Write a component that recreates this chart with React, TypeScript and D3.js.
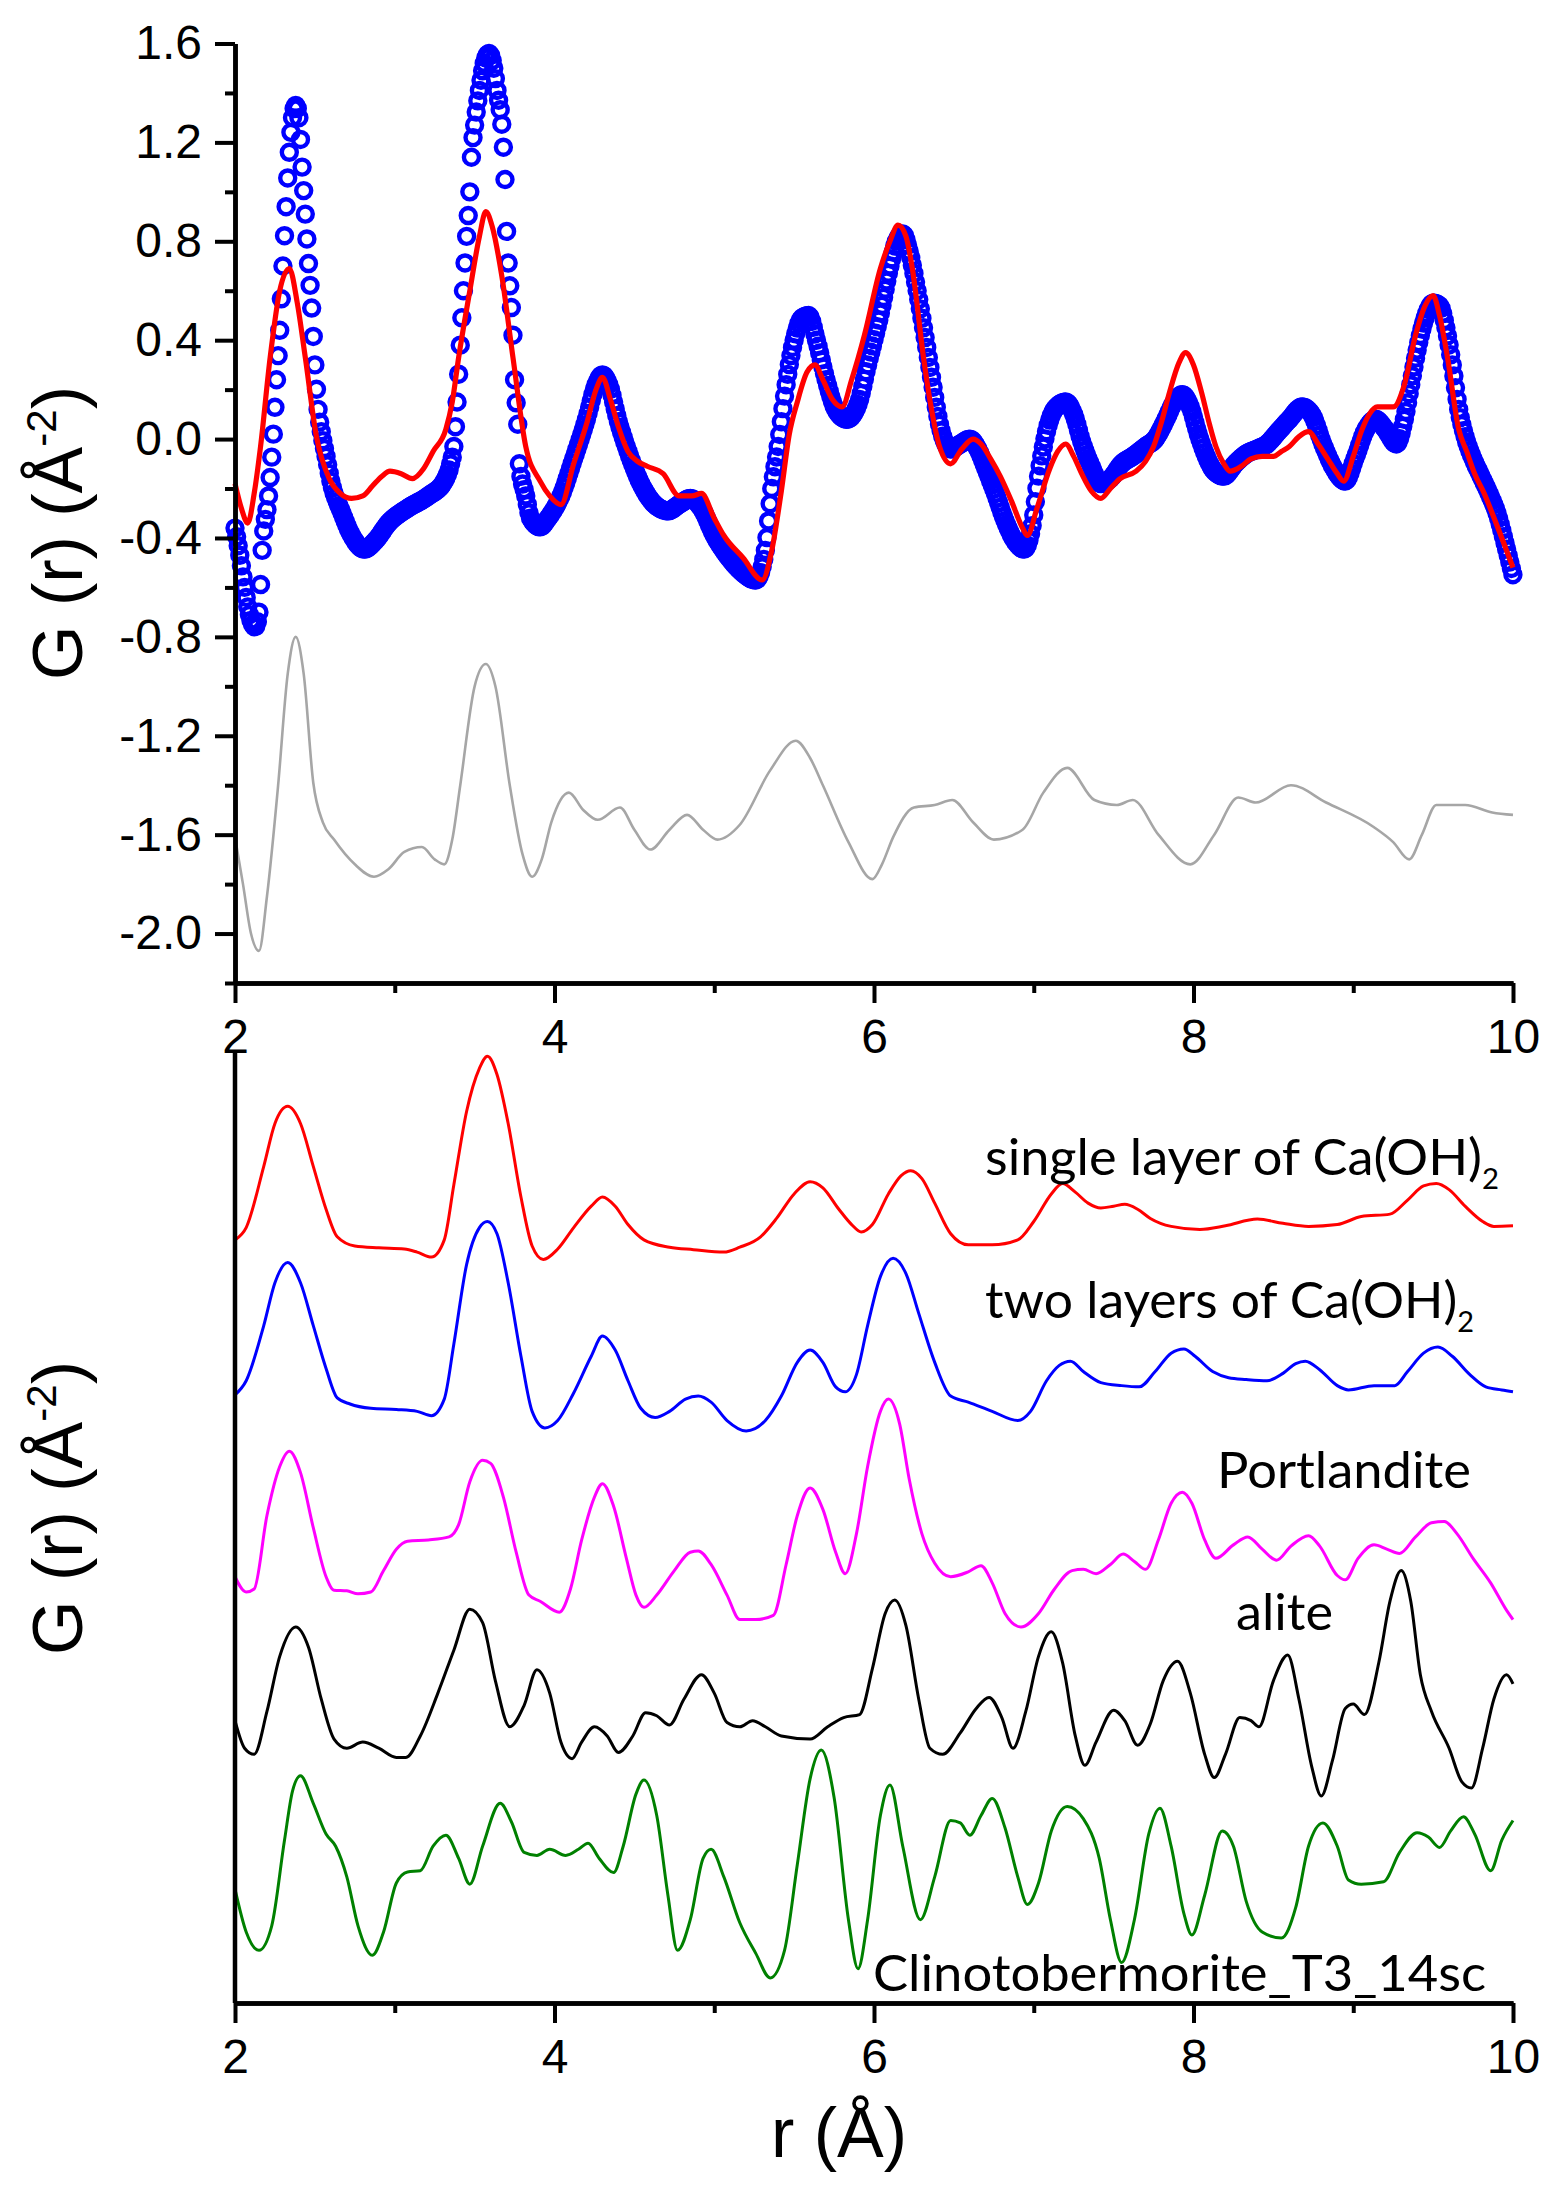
import React, { useEffect, useRef } from 'react';
import * as d3 from 'd3';

type P = [number, number];

// ---------- Top panel: experimental G(r) (blue circles), fit (red), difference (grey) ----------
const expData: P[] = [
  [2.00,-0.36],[2.03,-0.47],[2.06,-0.60],[2.09,-0.71],[2.125,-0.76],[2.15,-0.70],[2.17,-0.45],[2.21,-0.23],
  [2.24,0.02],[2.26,0.24],[2.28,0.44],[2.30,0.70],[2.32,0.94],[2.34,1.16],[2.36,1.30],[2.38,1.35],[2.40,1.30],
  [2.42,1.10],[2.44,0.91],[2.46,0.71],[2.48,0.53],[2.50,0.30],[2.52,0.12],[2.54,0.03],[2.57,-0.07],[2.60,-0.17],
  [2.67,-0.30],[2.73,-0.39],[2.81,-0.445],[2.88,-0.41],[2.96,-0.34],[3.08,-0.28],[3.21,-0.23],[3.31,-0.17],
  [3.35,-0.10],[3.37,-0.03],[3.39,0.15],[3.41,0.38],[3.43,0.60],[3.45,0.82],[3.47,1.00],[3.48,1.14],[3.50,1.27],
  [3.53,1.41],[3.56,1.52],[3.59,1.56],[3.62,1.50],[3.64,1.41],[3.675,1.23],[3.69,1.05],[3.70,0.84],[3.72,0.62],
  [3.74,0.42],[3.75,0.24],[3.77,0.06],[3.78,-0.10],[3.82,-0.23],[3.85,-0.32],[3.91,-0.355],[3.96,-0.32],
  [4.04,-0.23],[4.12,-0.08],[4.20,0.08],[4.26,0.22],[4.30,0.26],[4.34,0.22],[4.40,0.07],[4.46,-0.05],
  [4.54,-0.18],[4.62,-0.26],[4.71,-0.29],[4.79,-0.26],[4.85,-0.24],[4.92,-0.28],[5.00,-0.39],[5.08,-0.47],
  [5.16,-0.53],[5.26,-0.57],[5.32,-0.45],[5.36,-0.20],[5.40,-0.03],[5.45,0.22],[5.50,0.40],[5.55,0.49],
  [5.59,0.50],[5.64,0.40],[5.70,0.24],[5.76,0.12],[5.83,0.08],[5.90,0.14],[5.96,0.30],[6.04,0.51],[6.10,0.70],
  [6.14,0.80],[6.18,0.83],[6.22,0.76],[6.27,0.60],[6.31,0.45],[6.36,0.25],[6.41,0.06],[6.48,-0.04],[6.54,-0.02],
  [6.60,0.00],[6.65,-0.04],[6.70,-0.12],[6.76,-0.22],[6.82,-0.33],[6.89,-0.42],[6.94,-0.445],[6.99,-0.35],
  [7.03,-0.15],[7.08,0.03],[7.13,0.12],[7.20,0.15],[7.25,0.10],[7.30,-0.01],[7.36,-0.11],[7.42,-0.18],
  [7.48,-0.16],[7.55,-0.10],[7.62,-0.07],[7.70,-0.03],[7.76,0.00],[7.82,0.07],[7.88,0.15],[7.93,0.18],
  [7.98,0.13],[8.03,0.02],[8.08,-0.07],[8.13,-0.13],[8.19,-0.15],[8.26,-0.10],[8.33,-0.06],[8.40,-0.04],
  [8.46,-0.02],[8.53,0.03],[8.60,0.08],[8.68,0.13],[8.74,0.10],[8.81,-0.02],[8.88,-0.12],[8.95,-0.17],
  [9.01,-0.08],[9.08,0.04],[9.14,0.08],[9.20,0.04],[9.27,-0.02],[9.32,0.08],[9.36,0.22],[9.40,0.36],
  [9.45,0.49],[9.50,0.55],[9.54,0.54],[9.58,0.45],[9.62,0.30],[9.66,0.12],[9.70,0.01],[9.75,-0.08],
  [9.80,-0.15],[9.85,-0.22],[9.90,-0.30],[9.95,-0.42],[10.00,-0.55],
];

const fitData: P[] = [
  [2.00,-0.18],[2.04,-0.28],[2.08,-0.34],[2.12,-0.22],[2.16,-0.03],[2.22,0.33],[2.28,0.60],[2.34,0.69],
  [2.39,0.55],[2.44,0.33],[2.51,0.01],[2.59,-0.16],[2.66,-0.22],[2.73,-0.24],[2.80,-0.23],[2.86,-0.19],
  [2.92,-0.15],[2.97,-0.13],[3.04,-0.14],[3.11,-0.16],[3.18,-0.12],[3.24,-0.05],[3.32,0.04],[3.36,0.15],
  [3.40,0.33],[3.47,0.60],[3.53,0.82],[3.57,0.92],[3.61,0.86],[3.67,0.66],[3.74,0.33],[3.82,-0.03],
  [3.91,-0.17],[3.97,-0.23],[4.04,-0.265],[4.12,-0.10],[4.20,0.06],[4.26,0.20],[4.30,0.25],[4.35,0.16],
  [4.40,0.05],[4.46,-0.05],[4.52,-0.09],[4.58,-0.11],[4.68,-0.14],[4.78,-0.23],[4.86,-0.23],[4.92,-0.22],
  [5.00,-0.32],[5.06,-0.39],[5.18,-0.48],[5.30,-0.57],[5.36,-0.45],[5.42,-0.21],[5.47,0.02],[5.52,0.15],
  [5.58,0.27],[5.63,0.30],[5.68,0.24],[5.74,0.16],[5.80,0.13],[5.86,0.24],[5.94,0.42],[6.04,0.69],
  [6.10,0.80],[6.15,0.865],[6.20,0.82],[6.24,0.69],[6.31,0.33],[6.36,0.12],[6.41,-0.03],[6.48,-0.10],
  [6.55,-0.04],[6.62,0.00],[6.67,-0.02],[6.73,-0.08],[6.79,-0.15],[6.86,-0.25],[6.93,-0.36],[6.96,-0.39],
  [7.02,-0.28],[7.10,-0.12],[7.15,-0.05],[7.20,-0.02],[7.25,-0.07],[7.30,-0.14],[7.36,-0.21],[7.42,-0.24],
  [7.48,-0.20],[7.54,-0.16],[7.64,-0.13],[7.70,-0.09],[7.75,-0.03],[7.80,0.07],[7.85,0.19],[7.91,0.31],
  [7.95,0.35],[8.00,0.30],[8.05,0.19],[8.10,0.06],[8.14,-0.03],[8.19,-0.10],[8.23,-0.13],[8.30,-0.11],
  [8.36,-0.08],[8.43,-0.07],[8.50,-0.07],[8.55,-0.05],[8.60,-0.03],[8.66,0.01],[8.72,0.03],[8.78,-0.02],
  [8.84,-0.08],[8.90,-0.14],[8.94,-0.17],[9.00,-0.07],[9.05,0.03],[9.10,0.10],[9.15,0.13],[9.25,0.13],
  [9.32,0.22],[9.39,0.42],[9.45,0.54],[9.50,0.58],[9.54,0.50],[9.59,0.33],[9.66,0.04],[9.71,-0.05],
  [9.76,-0.14],[9.82,-0.22],[9.87,-0.30],[9.93,-0.40],[10.00,-0.52],
];

const diffData: P[] = [
  [2.00,-1.61],[2.05,-1.80],[2.10,-2.00],[2.15,-2.07],[2.20,-1.85],[2.27,-1.40],[2.33,-0.95],[2.38,-0.80],
  [2.43,-0.95],[2.49,-1.39],[2.55,-1.55],[2.62,-1.62],[2.75,-1.72],[2.87,-1.77],[2.96,-1.74],[3.06,-1.67],
  [3.17,-1.65],[3.25,-1.70],[3.31,-1.72],[3.36,-1.62],[3.41,-1.40],[3.50,-1.00],[3.57,-0.91],[3.63,-1.00],
  [3.72,-1.40],[3.80,-1.68],[3.86,-1.77],[3.92,-1.70],[3.98,-1.55],[4.09,-1.43],[4.18,-1.50],[4.27,-1.54],
  [4.41,-1.49],[4.50,-1.58],[4.60,-1.66],[4.72,-1.58],[4.83,-1.52],[4.93,-1.58],[5.02,-1.62],[5.16,-1.56],
  [5.35,-1.34],[5.51,-1.22],[5.60,-1.29],[5.68,-1.40],[5.84,-1.63],[5.99,-1.78],[6.05,-1.72],[6.12,-1.61],
  [6.25,-1.49],[6.38,-1.48],[6.49,-1.46],[6.62,-1.55],[6.75,-1.62],[6.93,-1.58],[7.06,-1.43],[7.21,-1.33],
  [7.38,-1.46],[7.52,-1.48],[7.62,-1.46],[7.78,-1.60],[7.98,-1.72],[8.13,-1.60],[8.28,-1.45],[8.39,-1.47],
  [8.61,-1.40],[8.83,-1.47],[9.13,-1.57],[9.25,-1.63],[9.35,-1.70],[9.43,-1.60],[9.52,-1.48],[9.70,-1.48],
  [9.87,-1.51],[10.00,-1.52],
];

// ---------- Bottom panel: model curves (arbitrary offset units) ----------
const singleLayer: P[] = [
  [2.00,12.46],[2.07,12.66],[2.18,13.66],[2.25,14.36],[2.33,14.64],[2.41,14.36],[2.49,13.66],[2.57,12.96],
  [2.64,12.51],[2.75,12.36],[2.90,12.33],[3.06,12.31],[3.14,12.26],[3.23,12.18],[3.31,12.46],[3.37,13.36],
  [3.45,14.56],[3.53,15.26],[3.58,15.46],[3.64,15.16],[3.71,14.36],[3.79,13.16],[3.86,12.36],[3.93,12.14],
  [4.02,12.31],[4.12,12.66],[4.23,13.01],[4.30,13.16],[4.38,13.01],[4.46,12.71],[4.56,12.46],[4.72,12.34],
  [4.87,12.30],[5.06,12.26],[5.16,12.34],[5.29,12.51],[5.39,12.81],[5.50,13.21],[5.60,13.41],[5.68,13.31],
  [5.78,12.96],[5.86,12.71],[5.92,12.59],[5.99,12.71],[6.09,13.21],[6.17,13.51],[6.23,13.59],[6.30,13.46],
  [6.38,13.06],[6.48,12.56],[6.59,12.38],[6.74,12.38],[6.90,12.46],[7.00,12.76],[7.11,13.21],[7.18,13.38],
  [7.26,13.24],[7.34,13.06],[7.42,12.98],[7.50,13.01],[7.57,13.04],[7.65,12.96],[7.73,12.81],[7.86,12.68],
  [8.04,12.63],[8.20,12.69],[8.40,12.80],[8.56,12.73],[8.72,12.68],[8.90,12.71],[9.05,12.84],[9.23,12.88],
  [9.34,13.11],[9.44,13.34],[9.52,13.38],[9.60,13.28],[9.70,13.01],[9.81,12.76],[9.88,12.68],[10.00,12.69],
];

const twoLayers: P[] = [
  [2.00,9.93],[2.07,10.16],[2.18,11.06],[2.25,11.76],[2.33,12.09],[2.41,11.76],[2.49,11.06],[2.57,10.36],
  [2.64,9.88],[2.72,9.78],[2.85,9.71],[3.01,9.69],[3.14,9.66],[3.23,9.59],[3.31,9.86],[3.37,10.76],
  [3.45,12.06],[3.53,12.66],[3.58,12.76],[3.64,12.56],[3.71,11.76],[3.79,10.56],[3.86,9.66],[3.94,9.39],
  [4.02,9.51],[4.12,9.96],[4.23,10.56],[4.30,10.89],[4.38,10.66],[4.46,10.16],[4.54,9.71],[4.63,9.56],
  [4.72,9.66],[4.82,9.86],[4.90,9.91],[4.98,9.81],[5.08,9.51],[5.20,9.34],[5.32,9.51],[5.42,9.91],
  [5.52,10.46],[5.60,10.66],[5.68,10.46],[5.76,10.06],[5.82,9.98],[5.89,10.26],[5.96,11.06],[6.04,11.86],
  [6.12,12.16],[6.20,11.91],[6.28,11.26],[6.38,10.46],[6.48,9.91],[6.59,9.81],[6.74,9.66],[6.90,9.51],
  [6.98,9.66],[7.08,10.16],[7.16,10.41],[7.23,10.48],[7.31,10.31],[7.42,10.13],[7.55,10.08],[7.66,10.06],
  [7.76,10.31],[7.86,10.61],[7.94,10.68],[8.01,10.56],[8.12,10.31],[8.22,10.21],[8.33,10.18],[8.46,10.16],
  [8.56,10.28],[8.64,10.44],[8.70,10.48],[8.79,10.34],[8.90,10.08],[8.97,10.01],[9.13,10.08],[9.26,10.08],
  [9.34,10.31],[9.44,10.61],[9.53,10.71],[9.62,10.56],[9.73,10.26],[9.83,10.06],[9.93,10.01],[10.00,9.98],
];

const portlandite: P[] = [
  [2.00,6.96],[2.07,6.71],[2.12,6.76],[2.20,7.96],[2.28,8.76],[2.34,9.01],[2.41,8.66],[2.49,7.76],
  [2.57,6.96],[2.62,6.74],[2.70,6.73],[2.77,6.68],[2.85,6.71],[2.93,7.06],[3.01,7.41],[3.08,7.54],
  [3.21,7.56],[3.34,7.61],[3.40,7.81],[3.47,8.51],[3.55,8.86],[3.60,8.81],[3.68,8.26],[3.76,7.36],
  [3.84,6.66],[3.91,6.56],[4.03,6.38],[4.10,6.76],[4.17,7.56],[4.25,8.26],[4.30,8.48],[4.37,8.11],
  [4.45,7.26],[4.51,6.66],[4.56,6.46],[4.64,6.66],[4.75,7.06],[4.85,7.36],[4.90,7.38],[4.98,7.16],
  [5.08,6.66],[5.16,6.26],[5.26,6.26],[5.37,6.33],[5.45,7.16],[5.52,7.96],[5.60,8.41],[5.68,8.06],
  [5.76,7.36],[5.82,7.01],[5.89,7.66],[5.96,8.76],[6.04,9.66],[6.09,9.86],[6.16,9.46],[6.22,8.56],
  [6.30,7.66],[6.38,7.18],[6.48,6.96],[6.59,7.04],[6.67,7.14],[6.74,6.86],[6.82,6.36],[6.92,6.14],
  [7.03,6.36],[7.13,6.76],[7.24,7.06],[7.31,7.08],[7.39,7.01],[7.48,7.16],[7.56,7.33],[7.63,7.21],
  [7.70,7.08],[7.78,7.56],[7.86,8.16],[7.93,8.34],[7.99,8.16],[8.07,7.56],[8.14,7.26],[8.25,7.48],
  [8.34,7.61],[8.43,7.41],[8.52,7.23],[8.61,7.46],[8.72,7.63],[8.79,7.46],[8.90,6.98],[8.95,6.91],
  [9.03,7.26],[9.13,7.48],[9.21,7.41],[9.29,7.34],[9.39,7.61],[9.49,7.84],[9.57,7.86],[9.65,7.66],
  [9.75,7.26],[9.86,6.86],[9.96,6.41],[10.00,6.26],
];

const alite: P[] = [
  [2.00,4.61],[2.06,4.16],[2.12,4.06],[2.20,4.76],[2.28,5.66],[2.38,6.14],[2.46,5.81],[2.54,4.96],
  [2.62,4.31],[2.70,4.16],[2.80,4.26],[2.90,4.16],[3.01,4.01],[3.07,4.01],[3.16,4.36],[3.27,5.06],
  [3.37,5.76],[3.47,6.43],[3.55,6.21],[3.63,5.26],[3.72,4.51],[3.81,4.86],[3.89,5.44],[3.97,5.06],
  [4.04,4.26],[4.11,3.99],[4.17,4.26],[4.25,4.51],[4.33,4.36],[4.40,4.09],[4.49,4.36],[4.57,4.74],
  [4.64,4.69],[4.72,4.54],[4.81,4.96],[4.92,5.36],[5.00,5.06],[5.08,4.58],[5.16,4.51],[5.24,4.61],
  [5.32,4.51],[5.42,4.36],[5.60,4.31],[5.71,4.51],[5.81,4.66],[5.91,4.71],[5.99,5.46],[6.07,6.36],
  [6.13,6.58],[6.20,6.16],[6.28,4.96],[6.35,4.16],[6.43,4.06],[6.54,4.41],[6.64,4.81],[6.72,4.99],
  [6.80,4.66],[6.87,4.16],[6.95,4.76],[7.03,5.66],[7.11,6.06],[7.18,5.56],[7.26,4.36],[7.32,3.88],
  [7.39,4.26],[7.50,4.78],[7.57,4.61],[7.65,4.21],[7.73,4.56],[7.81,5.26],[7.90,5.58],[7.98,5.06],
  [8.07,4.06],[8.13,3.68],[8.20,4.06],[8.29,4.66],[8.36,4.61],[8.41,4.51],[8.50,5.26],[8.59,5.68],
  [8.66,4.96],[8.74,3.86],[8.80,3.38],[8.87,3.96],[8.95,4.81],[9.00,4.88],[9.07,4.71],[9.16,5.56],
  [9.23,6.56],[9.30,7.06],[9.36,6.56],[9.42,5.36],[9.49,4.76],[9.60,4.16],[9.68,3.61],[9.74,3.51],
  [9.81,4.16],[9.88,4.96],[9.96,5.36],[10.00,5.21],
];

const clinotobermorite: P[] = [
  [2.00,1.86],[2.07,1.16],[2.15,0.86],[2.23,1.26],[2.31,2.66],[2.36,3.46],[2.41,3.71],[2.49,3.26],
  [2.57,2.76],[2.63,2.56],[2.70,2.06],[2.77,1.26],[2.86,0.78],[2.93,1.16],[3.01,1.96],[3.08,2.14],
  [3.16,2.16],[3.24,2.56],[3.32,2.74],[3.40,2.36],[3.47,1.94],[3.55,2.56],[3.66,3.26],[3.73,2.96],
  [3.81,2.46],[3.89,2.41],[3.97,2.51],[4.07,2.41],[4.15,2.51],[4.21,2.61],[4.28,2.36],[4.37,2.13],
  [4.43,2.56],[4.51,3.41],[4.56,3.64],[4.64,3.06],[4.71,1.76],[4.77,0.86],[4.85,1.36],[4.93,2.36],
  [4.98,2.51],[5.06,2.06],[5.16,1.31],[5.26,0.81],[5.35,0.41],[5.44,0.86],[5.52,2.26],[5.60,3.66],
  [5.67,4.13],[5.75,3.36],[5.84,1.36],[5.90,0.56],[5.96,1.36],[6.04,3.06],[6.10,3.56],[6.18,2.56],
  [6.29,1.36],[6.38,2.06],[6.48,2.98],[6.54,2.94],[6.60,2.74],[6.67,3.06],[6.74,3.34],[6.82,2.86],
  [6.90,2.06],[6.96,1.61],[7.03,1.96],[7.11,2.81],[7.21,3.21],[7.31,3.01],[7.41,2.36],[7.48,1.36],
  [7.55,0.66],[7.63,1.36],[7.72,2.76],[7.79,3.18],[7.86,2.56],[7.94,1.46],[7.99,1.11],[8.07,1.76],
  [8.18,2.81],[8.25,2.56],[8.33,1.66],[8.43,1.16],[8.55,1.06],[8.64,1.56],[8.72,2.56],[8.81,2.94],
  [8.90,2.56],[8.97,2.01],[9.05,1.94],[9.19,1.98],[9.29,2.46],[9.40,2.78],[9.47,2.71],[9.54,2.54],
  [9.61,2.81],[9.69,3.04],[9.76,2.76],[9.86,2.16],[9.93,2.66],[10.00,2.98],
];

// ---------- Axes / labels ----------
const rDomain: [number, number] = [2, 10];
const gTopDomain: [number, number] = [-2.2, 1.6];
const bottomDomain: [number, number] = [0, 15.56];
const xMajorTicks = [2, 4, 6, 8, 10];
const xMajorLabels = ['2', '4', '6', '8', '10'];
const xMinorTicks = [3, 5, 7, 9];
const yMajorTicks = [1.6, 1.2, 0.8, 0.4, 0.0, -0.4, -0.8, -1.2, -1.6, -2.0];
const yMajorLabels = ['1.6', '1.2', '0.8', '0.4', '0.0', '-0.4', '-0.8', '-1.2', '-1.6', '-2.0'];
const yMinorTicks = [1.4, 1.0, 0.6, 0.2, -0.2, -0.6, -1.0, -1.4, -1.8, -2.2];
const expStep = 0.01;

const bottomSeries = [
  { name: 'single layer', data: singleLayer, color: '#ff0000' },
  { name: 'two layers', data: twoLayers, color: '#0000ff' },
  { name: 'Portlandite', data: portlandite, color: '#ff00ff' },
  { name: 'alite', data: alite, color: '#000000' },
  { name: 'Clinotobermorite', data: clinotobermorite, color: '#008000' },
];

const seriesLabels = [
  { main: 'single layer of Ca(OH)', sub: '2', x: 985, y: 1175, w: 514 },
  { main: 'two layers of Ca(OH)', sub: '2', x: 985, y: 1318, w: 489 },
  { main: 'Portlandite', sub: '', x: 1217, y: 1488, w: 254 },
  { main: 'alite', sub: '', x: 1236, y: 1630, w: 97 },
  { main: 'Clinotobermorite_T3_14sc', sub: '', x: 873, y: 1991, w: 613 },
];

const W = 1556;
const H = 2187;
const AX = '"Liberation Sans", Arial, Helvetica, sans-serif';
const LBL = 'Lato, "Open Sans", sans-serif';

export default function App() {
  const ref = useRef<SVGSVGElement>(null);

  useEffect(() => {
    const svg = d3.select(ref.current as SVGSVGElement);
    svg.selectAll('*').remove();

    const x = d3.scaleLinear().domain(rDomain).range([235, 1513]);
    const yT = d3.scaleLinear().domain(gTopDomain).range([983, 43.5]);
    const yB = d3.scaleLinear().domain(bottomDomain).range([2003, 1050]);

    const lineT = d3.line<P>().x(d => x(d[0])).y(d => yT(d[1])).curve(d3.curveMonotoneX);
    const lineB = d3.line<P>().x(d => x(d[0])).y(d => yB(d[1])).curve(d3.curveMonotoneX);

    // ---- Top panel data ----
    const top = svg.append('g');
    top.append('path').attr('d', lineT(diffData) as string).attr('fill', 'none')
      .attr('stroke', '#a6a6a6').attr('stroke-width', 2.6);

    // experimental curve as open circles at the measured r-step
    const guide = top.append('path').attr('d', lineT(expData) as string)
      .attr('fill', 'none').attr('stroke', 'none');
    const node = guide.node() as SVGPathElement;
    const L = node.getTotalLength();
    const samples: { x: number; y: number }[] = [];
    for (let s = 0; s <= L; s += 0.6) {
      const p = node.getPointAtLength(s);
      samples.push({ x: p.x, y: p.y });
    }
    const centers: { x: number; y: number }[] = [];
    let j = 0;
    const n = Math.round((rDomain[1] - rDomain[0]) / expStep);
    for (let i = 0; i <= n; i++) {
      const tx = x(rDomain[0] + i * expStep);
      while (j < samples.length - 1 && samples[j + 1].x <= tx) j++;
      const a = samples[j];
      const b = samples[Math.min(j + 1, samples.length - 1)];
      const t = b.x > a.x ? Math.min(1, Math.max(0, (tx - a.x) / (b.x - a.x))) : 0;
      centers.push({ x: a.x + (b.x - a.x) * t, y: a.y + (b.y - a.y) * t });
    }
    top.append('g').selectAll('circle').data(centers).join('circle')
      .attr('cx', d => d.x).attr('cy', d => d.y).attr('r', 7.5)
      .attr('fill', 'none').attr('stroke', '#0000ff').attr('stroke-width', 4.4);

    top.append('path').attr('d', lineT(fitData) as string).attr('fill', 'none')
      .attr('stroke', '#ff0000').attr('stroke-width', 5.2).attr('stroke-linejoin', 'round');

    // ---- Top axes ----
    const styleAxis = (g: d3.Selection<SVGGElement, unknown, null, undefined>) => {
      g.select('.domain').attr('stroke', '#000').attr('stroke-width', 4.5);
      g.selectAll('.tick line').attr('stroke', '#000').attr('stroke-width', 4);
      g.selectAll('.tick text').attr('fill', '#000').attr('font-family', AX).attr('font-size', 48);
      g.attr('font-family', AX).attr('font-size', 48);
    };

    const yAxisMinor = top.append('g').attr('transform', 'translate(235,0)')
      .call(d3.axisLeft(yT).tickValues(yMinorTicks).tickSize(10).tickSizeOuter(0).tickFormat(() => ''));
    styleAxis(yAxisMinor as any);
    const yAxis = top.append('g').attr('transform', 'translate(235,0)')
      .call(d3.axisLeft(yT).tickValues(yMajorTicks).tickSize(20).tickSizeOuter(0).tickPadding(13)
        .tickFormat((_d, i) => yMajorLabels[i]));
    styleAxis(yAxis as any);

    const xAxisTMinor = top.append('g').attr('transform', 'translate(0,983)')
      .call(d3.axisBottom(x).tickValues(xMinorTicks).tickSize(10).tickSizeOuter(0).tickFormat(() => ''));
    styleAxis(xAxisTMinor as any);
    const xAxisT = top.append('g').attr('transform', 'translate(0,983)')
      .call(d3.axisBottom(x).tickValues(xMajorTicks).tickSize(20).tickSizeOuter(0).tickPadding(16)
        .tickFormat((_d, i) => xMajorLabels[i]));
    styleAxis(xAxisT as any);

    // ---- Bottom panel ----
    const bot = svg.append('g');
    bottomSeries.forEach(s => {
      bot.append('path').attr('d', lineB(s.data) as string).attr('fill', 'none')
        .attr('stroke', s.color).attr('stroke-width', 3).attr('stroke-linejoin', 'round');
    });

    bot.append('line').attr('x1', 235).attr('x2', 235).attr('y1', yB(bottomDomain[1])).attr('y2', yB(0))
      .attr('stroke', '#000').attr('stroke-width', 4.5);
    const xAxisBMinor = bot.append('g').attr('transform', 'translate(0,2003)')
      .call(d3.axisBottom(x).tickValues(xMinorTicks).tickSize(10).tickSizeOuter(0).tickFormat(() => ''));
    styleAxis(xAxisBMinor as any);
    const xAxisB = bot.append('g').attr('transform', 'translate(0,2003)')
      .call(d3.axisBottom(x).tickValues(xMajorTicks).tickSize(20).tickSizeOuter(0).tickPadding(16)
        .tickFormat((_d, i) => xMajorLabels[i]));
    styleAxis(xAxisB as any);

    // series labels
    seriesLabels.forEach(l => {
      const t = bot.append('text').attr('x', l.x).attr('y', l.y)
        .attr('font-family', LBL).attr('font-size', 50).attr('fill', '#000')
        .attr('textLength', l.w).attr('lengthAdjust', 'spacingAndGlyphs');
      t.append('tspan').text(l.main);
      if (l.sub) t.append('tspan').attr('dy', 14).attr('font-size', 28).text(l.sub);
    });

    // ---- Axis titles ----
    const yTitle = (cx: number, cy: number) => {
      const t = svg.append('text').attr('transform', `translate(${cx},${cy}) rotate(-90)`)
        .attr('text-anchor', 'middle').attr('font-family', AX).attr('font-size', 70).attr('fill', '#000');
      t.append('tspan').text('G (r) (Å');
      t.append('tspan').attr('dy', -26).attr('font-size', 42).text('-2');
      t.append('tspan').attr('dy', 26).text(')');
    };
    yTitle(82, 533);
    yTitle(82, 1508);

    svg.append('text').attr('x', 839).attr('y', 2157).attr('text-anchor', 'middle')
      .attr('font-family', AX).attr('font-size', 70).attr('fill', '#000').text('r (Å)');
  }, []);

  return (
    <svg ref={ref} width={W} height={H}
      style={{ position: 'absolute', left: 0, top: 0, background: '#fff', display: 'block' }} />
  );
}
